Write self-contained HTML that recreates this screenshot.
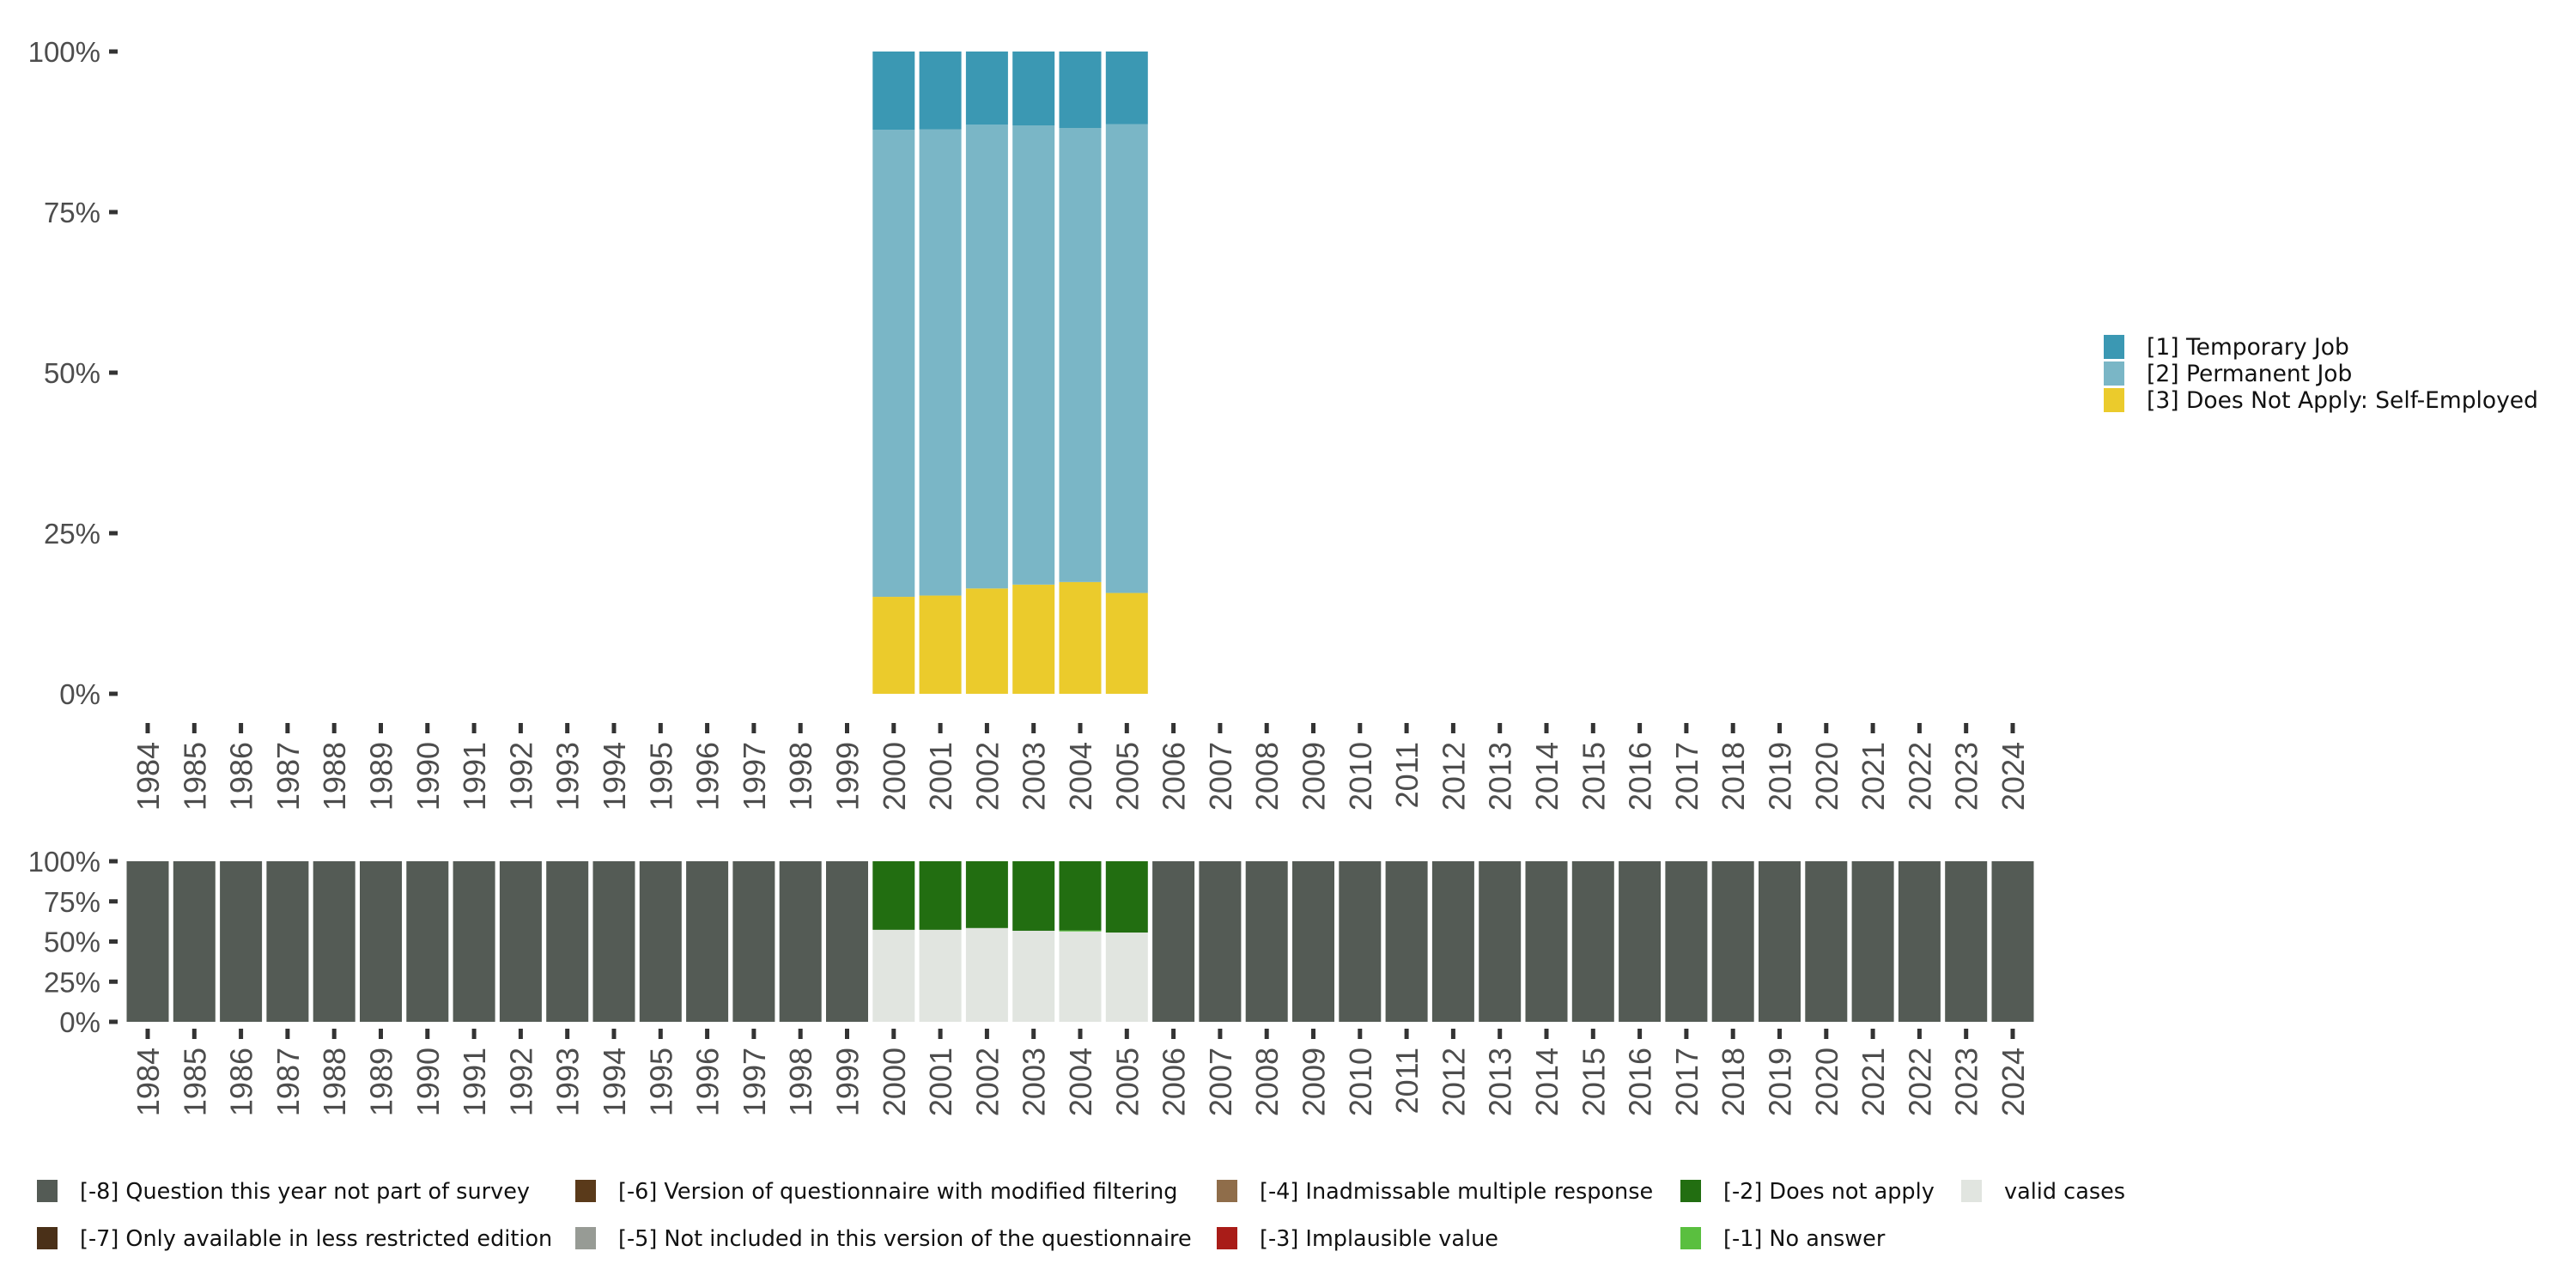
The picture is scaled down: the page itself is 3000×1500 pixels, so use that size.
<!DOCTYPE html>
<html><head><meta charset="utf-8"><style>
html,body{margin:0;padding:0;background:#fff;}
svg{display:block;font-family:"Liberation Sans",sans-serif;}
</style></head><body>
<svg id="chart" width="3000" height="1500" viewBox="0 0 3000 1500" xmlns="http://www.w3.org/2000/svg"></svg>
<script>
const years = [];
for (let y = 1984; y <= 2024; y++) years.push(y);
const topYears = [2000, 2001, 2002, 2003, 2004, 2005];
const selfEmployed = [15.1, 15.3, 16.4, 17.0, 17.4, 15.7];
const permanentJob = [72.7, 72.6, 72.2, 71.5, 70.7, 73.0];
const temporaryJob = [12.2, 12.1, 11.4, 11.5, 11.9, 11.3];
const validCases = [57.3, 57.3, 58.4, 56.7, 56.3, 55.6];
const noAnswer = [0, 0, 0, 0, 0.6, 0];
const doesNotApply = [42.7, 42.7, 41.6, 43.3, 43.1, 44.4];
const yTicks = [0, 25, 50, 75, 100];
const yTickLabels = ["0%", "25%", "50%", "75%", "100%"];

const NS = "http://www.w3.org/2000/svg";
const svg = document.getElementById('chart');
function mk(tag, attrs, parent) {
  const e = document.createElementNS(NS, tag);
  for (const k in attrs) e.setAttribute(k, attrs[k]);
  (parent || svg).appendChild(e);
  return e;
}
const pitch = 54.3, x0 = 172, bw = 49;
function xc(year) { return x0 + (year - 1984) * pitch; }
function yTop(v) { return 808 - v / 100 * (808 - 60); }
function yBot(v) { return 1190 - v / 100 * (1190 - 1003); }

function axes(yfn, tickY0, name) {
  const g = mk('g', {});
  
  
  yTicks.forEach((t, i) => {
    const y = yfn(t);
    const tk = mk('rect', {x: 127, y: y - 2.5, width: 10, height: 5, fill: '#333'}, g);
    
    
    const tx = mk('text', {x: 117, y: y + 12, 'text-anchor': 'end', 'font-size': 33, fill: '#4d4d4d'}, g);
    tx.textContent = yTickLabels[i];
    
    
  });
  years.forEach(yr => {
    const x = xc(yr);
    const tk = mk('rect', {x: x - 2.5, y: tickY0, width: 5, height: 12, fill: '#333'}, g);
    
    
    const tx = mk('text', {x: 0, y: 0, 'text-anchor': 'end', 'font-size': 36, fill: '#4d4d4d',
      transform: `translate(${x + 13},${tickY0 + 22}) rotate(-90)`}, g);
    tx.textContent = yr;
    
    
  });
}

function seg(yfn, yr, lo, hi, color, name) {
  const r = mk('rect', {x: xc(yr) - bw / 2, y: yfn(hi), width: bw, height: yfn(lo) - yfn(hi), fill: color});
  
  
}

// top chart
topYears.forEach((yr, i) => {
  const a = selfEmployed[i], b = a + permanentJob[i], c = b + temporaryJob[i];
  seg(yTop, yr, 0, a, '#ebcb2c', 'bar-self-employed-' + yr);
  seg(yTop, yr, a, b, '#7ab6c6', 'bar-permanent-job-' + yr);
  seg(yTop, yr, b, Math.min(c, 100), '#3b98b3', 'bar-temporary-job-' + yr);
});
axes(yTop, 842, 'top');

// bottom chart
years.forEach(yr => {
  const i = topYears.indexOf(yr);
  if (i < 0) {
    seg(yBot, yr, 0, 100, '#545b55', 'bar-not-in-survey-' + yr);
  } else {
    const a = validCases[i], b = a + noAnswer[i];
    seg(yBot, yr, 0, a, '#e1e5e0', 'bar-valid-cases-' + yr);
    if (noAnswer[i] > 0) seg(yBot, yr, a, b, '#5abf3f', 'bar-no-answer-' + yr);
    seg(yBot, yr, b, 100, '#226e11', 'bar-does-not-apply-' + yr);
  }
});
axes(yBot, 1198, 'bottom');

// right legend
const topLegend = [["[1] Temporary Job", "#3b98b3"], ["[2] Permanent Job", "#7ab6c6"], ["[3] Does Not Apply: Self-Employed", "#ebcb2c"]];
topLegend.forEach((l, i) => {
  const cy = 404 + i * 31;
  const g = mk('g', {});
  
  
  mk('rect', {x: 2450, y: cy - 14, width: 24, height: 28, fill: l[1]}, g);
  const t = mk('text', {x: 2500, y: cy + 9, 'font-size': 26.5, fill: '#111', 'font-family': '"DejaVu Sans", sans-serif'}, g);
  t.textContent = l[0];
});

// bottom legend
const botLegend = [
  ["[-8] Question this year not part of survey", "#545b55", 43, 1387],
  ["[-7] Only available in less restricted edition", "#4a3018", 43, 1442],
  ["[-6] Version of questionnaire with modified filtering", "#5a3a1a", 670, 1387],
  ["[-5] Not included in this version of the questionnaire", "#979b95", 670, 1442],
  ["[-4] Inadmissable multiple response", "#8f6d4a", 1417, 1387],
  ["[-3] Implausible value", "#a91c18", 1417, 1442],
  ["[-2] Does not apply", "#226e11", 1957, 1387],
  ["[-1] No answer", "#5abf3f", 1957, 1442],
  ["valid cases", "#e1e5e0", 2284, 1387]
];
botLegend.forEach(l => {
  const g = mk('g', {});
  
  
  mk('rect', {x: l[2], y: l[3] - 13, width: 24, height: 26, fill: l[1]}, g);
  const t = mk('text', {x: l[2] + 50, y: l[3] + 9, 'font-size': 25.5, fill: '#111', 'font-family': '"DejaVu Sans", sans-serif'}, g);
  t.textContent = l[0];
});
</script>
</body></html>
